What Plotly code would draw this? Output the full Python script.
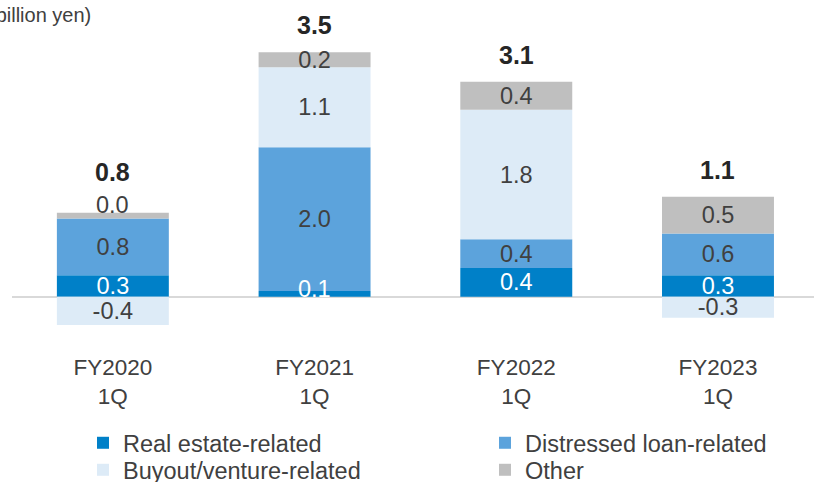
import plotly.graph_objects as go

categories = ["FY2020<br>1Q", "FY2021<br>1Q", "FY2022<br>1Q", "FY2023<br>1Q"]

real_estate = [0.30, 0.08, 0.40, 0.30]
distressed = [0.79, 2.00, 0.40, 0.58]
buyout = [-0.39, 1.11, 1.80, -0.29]
other = [0.08, 0.21, 0.39, 0.51]

real_estate_labels = ["0.3", "0.1", "0.4", "0.3"]
distressed_labels = ["0.8", "2.0", "0.4", "0.6"]
buyout_labels = ["-0.4", "1.1", "1.8", "-0.3"]
other_labels = ["0.0", "0.2", "0.4", "0.5"]
total_labels = ["0.8", "3.5", "3.1", "1.1"]

FONT = "Liberation Sans, Arial, sans-serif"
DARK = "#404040"
LBL = 23.5
THIN = 0.15

fig = go.Figure()

def add(name, vals, labels, color, txtcolor, legend):
    shown = [("" if abs(v) < THIN else t) for v, t in zip(vals, labels)]
    fig.add_trace(go.Bar(
        name=name, x=categories, y=vals, text=shown,
        textposition="inside",
        insidetextanchor="middle", textangle=0, constraintext="none",
        textfont=dict(family=FONT, size=LBL, color=txtcolor),
        marker=dict(color=color, line=dict(width=0)),
        width=0.555, cliponaxis=False, legend=legend,
        hoverinfo="skip",
    ))

add("Real estate-related", real_estate, real_estate_labels, "#0080C8", "#FFFFFF", "legend")
add("Distressed loan-related", distressed, distressed_labels, "#5CA3DC", DARK, "legend")
add("Buyout/venture-related", buyout, buyout_labels, "#DDEBF7", DARK, "legend2")
add("Other", other, other_labels, "#BFBFBF", DARK, "legend2")

# labels of thin segments, placed at the segment top edge
for i, cat in enumerate(categories):
    v = real_estate[i]
    if abs(v) < THIN:
        fig.add_annotation(x=cat, y=v, text=real_estate_labels[i], showarrow=False,
                           yanchor="middle", yshift=2,
                           font=dict(family=FONT, size=LBL, color="#FFFFFF"))
    top = sum(s for s in (real_estate[i], distressed[i], buyout[i], other[i]) if s > 0)
    if abs(other[i]) < THIN:
        fig.add_annotation(x=cat, y=top, text=other_labels[i], showarrow=False,
                           yanchor="middle", yshift=8,
                           font=dict(family=FONT, size=LBL, color=DARK))

# total labels above each stack
for i, cat in enumerate(categories):
    top = sum(v for v in (real_estate[i], distressed[i], buyout[i], other[i]) if v > 0)
    extra = 14 if abs(other[i]) < 0.1 else 0
    fig.add_annotation(x=cat, y=top, text="<b>%s</b>" % total_labels[i],
                       showarrow=False, yanchor="bottom", yshift=11 + extra,
                       font=dict(family=FONT, size=25, color="#262626"))

fig.add_annotation(xref="paper", yref="paper", x=0, y=1, xanchor="left", yanchor="middle",
                   xshift=-25, yshift=-6, text="(billion yen)", showarrow=False,
                   font=dict(family=FONT, size=20, color=DARK))

leg_common = dict(orientation="h", xref="container", yref="container",
                  xanchor="left", yanchor="top",
                  entrywidth=357, entrywidthmode="pixels",
                  font=dict(family=FONT, size=LBL, color=DARK),
                  traceorder="normal", bgcolor="rgba(0,0,0,0)")

fig.update_layout(
    width=814, height=482,
    barmode="relative",
    template="none",
    paper_bgcolor="white", plot_bgcolor="white",
    margin=dict(l=12, r=0, t=9, b=142),
    font=dict(family=FONT, size=22, color=DARK),
    showlegend=True,
    legend=dict(x=83 / 814, y=1 - 421 / 482, **leg_common),
    legend2=dict(x=83 / 814, y=1 - 448 / 482, **leg_common),
    xaxis=dict(range=[-0.5, 3.476], showgrid=False, showline=False, ticks="",
               ticklabelstandoff=11,
               tickfont=dict(family=FONT, size=22.5, color=DARK), fixedrange=True),
    yaxis=dict(range=[-0.6, 4.0], showgrid=False, showticklabels=False, ticks="",
               zeroline=True, zerolinecolor="#D9D9D9", zerolinewidth=1.5,
               showline=False, fixedrange=True),
)

fig.write_html("out.html", config={"displayModeBar": False},
               post_script="document.body.style.margin='0';")
